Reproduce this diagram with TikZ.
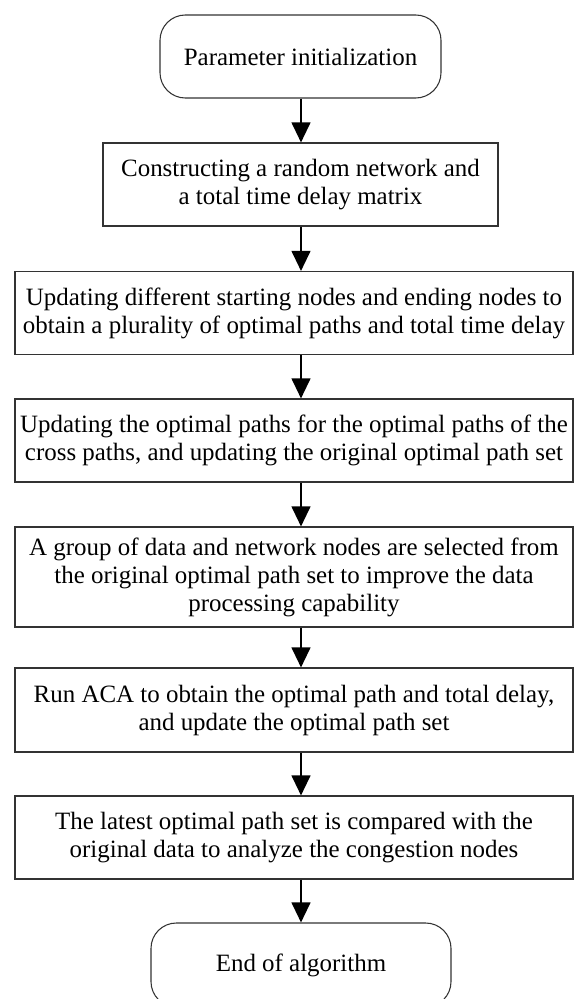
\documentclass[tikz,border=0pt]{standalone}
\usepackage{fontspec}
\setmainfont{Liberation Serif}
\usetikzlibrary{arrows.meta}
\begin{document}
\begin{tikzpicture}[x=0.75pt,y=-0.75pt,
  box/.style={draw=black!80, line width=0.8pt, rectangle, inner sep=0pt, align=center,
    font=\fontsize{18.7pt}{21pt}\selectfont},
  term/.style={box, rounded corners=19pt},
  arr/.style={line width=1.6pt, -{Triangle[length=15pt,width=14pt]}}]
\useasboundingbox (0,0) rectangle (574,999);
\node[term, minimum width=281*0.75pt, minimum height=83*0.75pt] (n1) at (300.5,56.5) {Parameter initialization};
\node[box, minimum width=395*0.75pt, minimum height=83*0.75pt] (n2) at (300.5,184.5) {Constructing a random network and\\a total time delay matrix};
\node[box, minimum width=558*0.75pt, minimum height=83*0.75pt] (n3) at (294,313) {Updating different starting nodes and ending nodes to\\obtain a plurality of optimal paths and total time delay};
\node[box, minimum width=558*0.75pt, minimum height=83*0.75pt] (n4) at (294,440.5) {Updating the optimal paths for the optimal paths of the\\cross paths, and updating the original optimal path set};
\node[box, minimum width=558*0.75pt, minimum height=100*0.75pt] (n5) at (294,577) {A group of data and network nodes are selected from\\the original optimal path set to improve the data\\processing capability};
\node[box, minimum width=558*0.75pt, minimum height=84*0.75pt] (n6) at (294,710) {Run ACA to obtain the optimal path and total delay,\\and update the optimal path set};
\node[box, minimum width=558*0.75pt, minimum height=83*0.75pt] (n7) at (294,837.5) {The latest optimal path set is compared with the\\original data to analyze the congestion nodes};
\node[term, minimum width=300*0.75pt, minimum height=84*0.75pt] (n8) at (301,965) {End of algorithm};
\coordinate (ax) at (301,0);
\draw[arr] (ax |- n1.south) -- (ax |- n2.north);
\draw[arr] (ax |- n2.south) -- (ax |- n3.north);
\draw[arr] (ax |- n3.south) -- (ax |- n4.north);
\draw[arr] (ax |- n4.south) -- (ax |- n5.north);
\draw[arr] (ax |- n5.south) -- (ax |- n6.north);
\draw[arr] (ax |- n6.south) -- (ax |- n7.north);
\draw[arr] (ax |- n7.south) -- (ax |- n8.north);
\end{tikzpicture}
\end{document}
